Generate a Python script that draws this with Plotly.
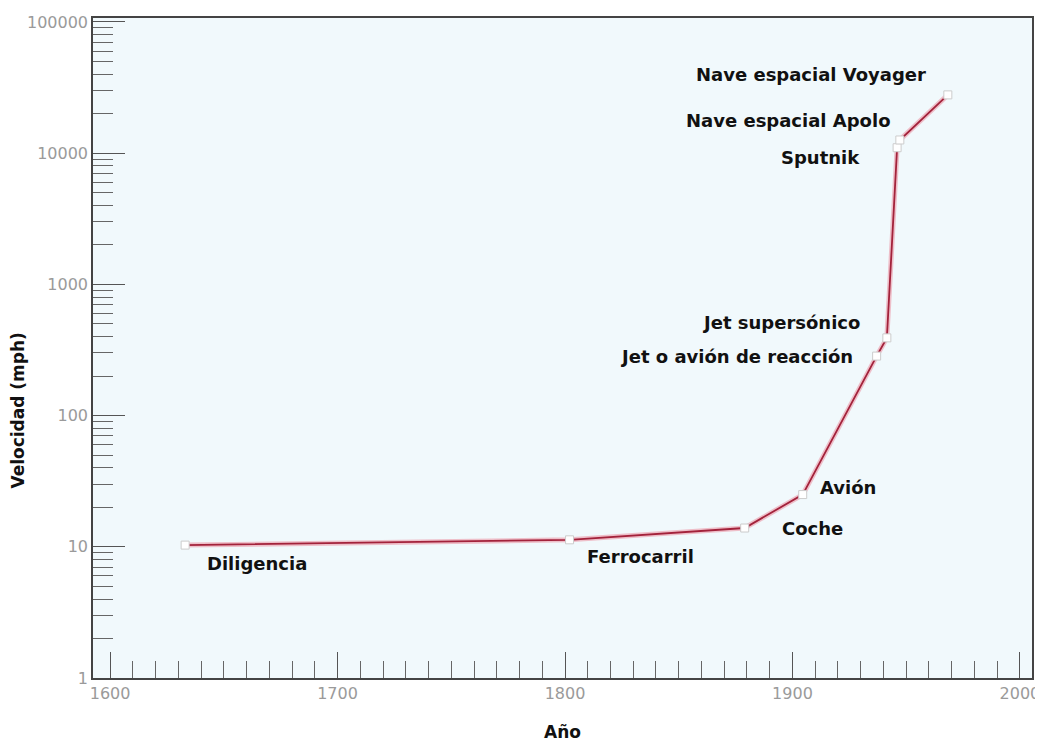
import math
import plotly.graph_objects as go

# ---- data ----
labels = ["Diligencia", "Ferrocarril", "Coche", "Avión", "Jet o avión de reacción",
          "Jet supersónico", "Sputnik", "Nave espacial Apolo", "Nave espacial Voyager"]
years = [1633, 1802, 1879, 1904.5, 1937, 1941.5, 1946, 1947.2, 1968.3]
speeds = [10.3, 11.3, 13.9, 25, 284, 391, 11000, 12600, 27800]

x_tickvals = [1600, 1700, 1800, 1900, 2000]
x_ticktext = ["1600", "1700", "1800", "1900", "2000"]
y_tickvals = [1, 10, 100, 1000, 10000, 100000]
y_ticktext = ["1", "10", "100", "1000", "10000", "100000"]
y_minor = [m * 10 ** k for k in range(0, 5) for m in range(2, 10)]

x_title = "Año"
y_title = "Velocidad (mph)"

# label offsets (pixels): xanchor, xshift, yshift
label_style = [
    ("left", 20, -18),
    ("left", 15, -17),
    ("left", 35, 0),
    ("left", 15, 7),
    ("right", -22, 0),
    ("right", -25, 15),
    ("right", -35, -10),
    ("right", -7, 19),
    ("right", -20, 20),
]

fig = go.Figure()
# soft pink halo under the line
fig.add_trace(go.Scatter(x=years, y=speeds, mode="lines",
                         line=dict(color="rgba(235,120,140,0.45)", width=5),
                         hoverinfo="skip", showlegend=False))
fig.add_trace(go.Scatter(x=years, y=speeds, mode="lines+markers",
                         line=dict(color="#a3223b", width=1.8),
                         marker=dict(symbol="square", size=8, color="white",
                                     line=dict(color="#cccccc", width=1)),
                         showlegend=False))

for lab, xv, yv, (xa, xs, ys) in zip(labels, years, speeds, label_style):
    fig.add_annotation(x=xv, y=math.log10(yv), xref="x", yref="y", text=lab, showarrow=False,
                       xanchor=xa, yanchor="middle", xshift=xs, yshift=ys,
                       font=dict(family="DejaVu Sans", size=18, color="#111111", weight="bold"))

tick_font = dict(family="DejaVu Sans", size=16, color="#9a9a9a")
title_font = dict(family="DejaVu Sans", size=17, color="#111111")

# y-axis title (placed lower than the axis centre, as in the original)
fig.add_annotation(x=-0.08, y=0.405, xref="paper", yref="paper", text="<b>" + y_title + "</b>",
                   showarrow=False, textangle=-90, xanchor="center", yanchor="middle",
                   font=title_font)

fig.update_xaxes(range=[1592.5, 2005.3], tickvals=x_tickvals, ticktext=x_ticktext,
                 ticks="inside", ticklen=26, tickwidth=1.2, tickcolor="#555555",
                 minor=dict(ticks="inside", dtick=10, tick0=1600, ticklen=17,
                            tickwidth=1.2, tickcolor="#666666", showgrid=False),
                 showline=True, linecolor="#444444", linewidth=1.5, mirror=True,
                 showgrid=False, zeroline=False, automargin=False,
                 ticklabeloverflow="allow",
                 tickfont=tick_font,
                 title=dict(text="<b>" + x_title + "</b>", font=title_font, standoff=25))
fig.update_yaxes(type="log", range=[0, 5.03], tickvals=y_tickvals, ticktext=y_ticktext,
                 ticks="inside", ticklen=32, tickwidth=1.2, tickcolor="#555555",
                 minor=dict(ticks="inside", tickvals=y_minor, ticklen=20,
                            tickwidth=1.2, tickcolor="#666666", showgrid=False),
                 showline=True, linecolor="#444444", linewidth=1.5, mirror=True,
                 showgrid=False, zeroline=False, automargin=False,
                 ticklabeloverflow="allow",
                 tickfont=tick_font)

# the page body adds an 8px margin, so the figure is sized/offset to compensate
fig.update_layout(width=1035, height=734,
                  margin=dict(l=85, r=11, t=10, b=64, autoexpand=False),
                  paper_bgcolor="white", plot_bgcolor="#f1f9fc")

fig.write_html("out.html")
